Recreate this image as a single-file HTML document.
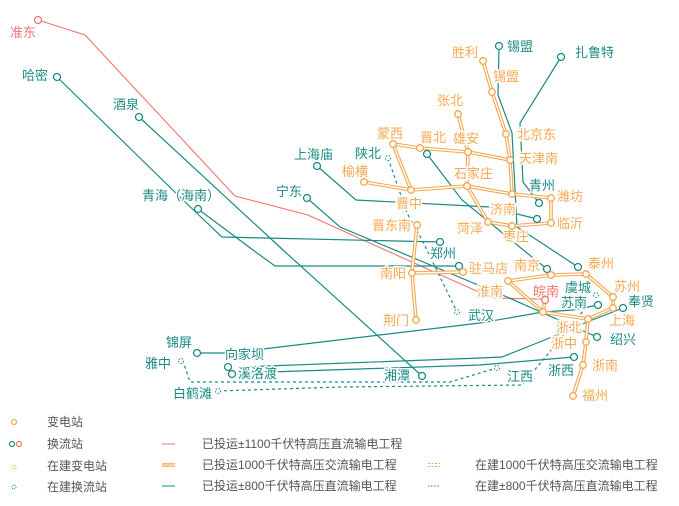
<!DOCTYPE html>
<html><head><meta charset="utf-8"><style>
html,body{margin:0;padding:0;background:#fff;}
svg{display:block;font-family:"Liberation Sans","Noto Sans CJK SC",sans-serif;}
.t,.o,.r{font-size:13px;paint-order:stroke;stroke:#fff;stroke-width:3px;stroke-linejoin:round}
.t{fill:#1a8a85}
.o{fill:#f5a850}
.r{fill:#f07470}
.L{fill:#555;font-size:12px}
.dc{fill:none;stroke:#1a8a85;stroke-width:1.2}
.ob{fill:none;stroke:#f5a54a;stroke-width:3.6;stroke-linejoin:round}
.ow{fill:none;stroke:#fff;stroke-width:1.4;stroke-linejoin:round}
.tc{fill:#fff;stroke:#1a8a85;stroke-width:1.3}
.oc{fill:#fff;stroke:#f5a54a;stroke-width:1.3}
</style></head><body>
<svg width="679" height="506" viewBox="0 0 679 506">
<polyline points="38,20 85,35 235,196 308,215 363,240 492,298 540,299 545,300" fill="none" stroke="#f07470" stroke-width="1.1"/>
<g class="dc">
<polyline points="57,77 183,200 222,237 440,242"/>
<polyline points="198,209 253,250 275,266 459,266"/>
<polyline points="139,117 283,250 422,376"/>
<polyline points="307,198 340,227 478,285 507,297 597,337"/>
<polyline points="317,166 356,200 490,207 537,219"/>
<polyline points="427,154 462,200 527,253 547,269"/>
<polyline points="499,46 498,95 512,133 517,227 537,240 578,267"/>
<polyline points="561,57 520,123 523,182 539,203"/>
<polyline points="197,353 225,353"/>
<polyline points="263,349 480,323 543,312 573,310 598,305"/>
<polyline points="240,367 480,358 502,357 557,335 587,322 623,308"/>
<polyline points="240,373 480,365 574,357"/>
<polyline points="388,158 407,213 422,240 457,312" stroke-dasharray="3,3"/>
<polyline points="181,361 185,367 190,382 450,382 480,373 497,368" stroke-dasharray="3,3"/>
<polyline points="218,391 340,387 522,385 543,360 588,305" stroke-dasharray="3,3"/>
</g>
<g>
<polyline class="ob" points="483,61 492,92 506,134 510,160 512,194"/>
<polyline class="ob" points="458,114 468,152"/>
<polyline class="ob" points="393,144 420,148 468,152 510,160"/>
<polyline class="ob" points="393,144 411,190"/>
<polyline class="ob" points="364,182 411,190 467,186 512,194 551,198 551,223 512,226 488,222 467,186"/>
<polyline class="ob" points="468,152 467,186"/>
<polyline class="ob" points="417,225 412,273 416,320"/>
<polyline class="ob" points="412,273 463,272"/>
<polyline class="ob" points="508,281 551,275 586,274 613,297 613,308 588,319 543,312 508,281"/>
<polyline class="ob" points="543,312 545,300"/>
<polyline class="ob" points="588,319 586,342 583,365 573,396"/>
<polyline class="ow" points="483,61 492,92 506,134 510,160 512,194"/>
<polyline class="ow" points="458,114 468,152"/>
<polyline class="ow" points="393,144 420,148 468,152 510,160"/>
<polyline class="ow" points="393,144 411,190"/>
<polyline class="ow" points="364,182 411,190 467,186 512,194 551,198 551,223 512,226 488,222 467,186"/>
<polyline class="ow" points="468,152 467,186"/>
<polyline class="ow" points="417,225 412,273 416,320"/>
<polyline class="ow" points="412,273 463,272"/>
<polyline class="ow" points="508,281 551,275 586,274 613,297 613,308 588,319 543,312 508,281"/>
<polyline class="ow" points="543,312 545,300"/>
<polyline class="ow" points="588,319 586,342 583,365 573,396"/>
</g>
<!-- labels (below circles) -->
<text class="r" x="10" y="37">准东</text>
<text class="t" x="22" y="80">哈密</text>
<text class="t" x="113" y="109">酒泉</text>
<text class="t" x="294" y="159">上海庙</text>
<text class="t" x="276" y="196">宁东</text>
<text class="t" x="142" y="200">青海（海南）</text>
<text class="t" x="507" y="51">锡盟</text>
<text class="t" x="575" y="57">扎鲁特</text>
<text class="o" x="452" y="57">胜利</text>
<text class="o" x="493" y="81">锡盟</text>
<text class="o" x="437" y="105">张北</text>
<text class="o" x="377" y="138">蒙西</text>
<text class="o" x="420" y="142">晋北</text>
<text class="o" x="453" y="143">雄安</text>
<text class="t" x="355" y="158">陕北</text>
<text class="o" x="517" y="139">北京东</text>
<text class="o" x="519" y="163">天津南</text>
<text class="o" x="342" y="176">榆横</text>
<text class="o" x="454" y="178">石家庄</text>
<text class="t" x="529" y="190">青州</text>
<text class="o" x="557" y="201">潍坊</text>
<text class="o" x="396" y="208">晋中</text>
<text class="o" x="490" y="214">济南</text>
<text class="o" x="372" y="230">晋东南</text>
<text class="o" x="457" y="233">菏泽</text>
<text class="o" x="557" y="228">临沂</text>
<text class="o" x="503" y="241">枣庄</text>
<text class="t" x="430" y="258">郑州</text>
<text class="o" x="469" y="273">驻马店</text>
<text class="o" x="514" y="270">南京</text>
<text class="o" x="588" y="268">泰州</text>
<text class="o" x="380" y="278">南阳</text>
<text class="o" x="477" y="296">淮南</text>
<text class="r" x="533" y="296">皖南</text>
<text class="t" x="565" y="292">虞城</text>
<text class="o" x="614" y="291">苏州</text>
<text class="t" x="561" y="307">苏南</text>
<text class="t" x="628" y="306">奉贤</text>
<text class="o" x="383" y="325">荆门</text>
<text class="t" x="468" y="320">武汉</text>
<text class="o" x="609" y="325">上海</text>
<text class="o" x="556" y="332">浙北</text>
<text class="t" x="610" y="344">绍兴</text>
<text class="o" x="551" y="348">浙中</text>
<text class="o" x="592" y="370">浙南</text>
<text class="t" x="384" y="380">湘潭</text>
<text class="t" x="548" y="375">浙西</text>
<text class="t" x="507" y="381">江西</text>
<text class="o" x="582" y="400">福州</text>
<text class="t" x="166" y="347">锦屏</text>
<text class="t" x="225" y="359">向家坝</text>
<text class="t" x="145" y="368">雅中</text>
<text class="t" x="238" y="378">溪洛渡</text>
<text class="t" x="173" y="398">白鹤滩</text>
<g class="tc">
<circle cx="57" cy="77" r="3.5"/><circle cx="139" cy="117" r="3.5"/><circle cx="198" cy="209" r="3.5"/>
<circle cx="307" cy="198" r="3.5"/><circle cx="317" cy="166" r="3.5"/><circle cx="427" cy="154" r="3.5"/>
<circle cx="499" cy="46" r="3.5"/><circle cx="561" cy="57" r="3.5"/><circle cx="539" cy="203" r="3.5"/>
<circle cx="537" cy="219" r="3.5"/><circle cx="440" cy="242" r="3.5"/><circle cx="459" cy="266" r="3.5"/>
<circle cx="547" cy="269" r="3.5"/><circle cx="578" cy="267" r="3.5"/><circle cx="598" cy="305" r="3.5"/>
<circle cx="623" cy="308" r="3.5"/><circle cx="597" cy="337" r="3.5"/><circle cx="574" cy="357" r="3.5"/>
<circle cx="422" cy="376" r="3.5"/><circle cx="197" cy="353" r="3.5"/><circle cx="228" cy="367" r="3.5"/><circle cx="232" cy="374" r="3.5"/>
</g>
<g fill="#fff" stroke="#1a8a85" stroke-width="1" stroke-dasharray="1.5,1.5">
<circle cx="388" cy="158" r="2.5"/><circle cx="457" cy="312" r="2.5"/><circle cx="181" cy="361" r="2.5"/>
<circle cx="497" cy="368" r="2.5"/><circle cx="218" cy="391" r="2.5"/><circle cx="596" cy="295" r="2.5"/>
</g>
<circle cx="38" cy="20" r="3.5" fill="#fff" stroke="#f07470" stroke-width="1.3"/>
<circle cx="545" cy="300" r="3.5" fill="#fff" stroke="#f07470" stroke-width="1.3"/>
<g class="oc">
<circle cx="483" cy="61" r="3.3"/><circle cx="492" cy="92" r="3.3"/><circle cx="506" cy="134" r="3.3"/>
<circle cx="510" cy="160" r="3.3"/><circle cx="512" cy="194" r="3.3"/><circle cx="551" cy="198" r="3.3"/>
<circle cx="551" cy="223" r="3.3"/><circle cx="512" cy="226" r="3.3"/><circle cx="488" cy="222" r="3.3"/>
<circle cx="467" cy="186" r="3.3"/><circle cx="468" cy="152" r="3.3"/><circle cx="458" cy="114" r="3.3"/>
<circle cx="393" cy="144" r="3.3"/><circle cx="420" cy="148" r="3.3"/><circle cx="364" cy="182" r="3.3"/>
<circle cx="411" cy="190" r="3.3"/><circle cx="417" cy="225" r="3.3"/><circle cx="412" cy="273" r="3.3"/>
<circle cx="416" cy="320" r="3.3"/><circle cx="463" cy="272" r="3.3"/><circle cx="508" cy="281" r="3.3"/>
<circle cx="551" cy="275" r="3.3"/><circle cx="586" cy="274" r="3.3"/><circle cx="613" cy="297" r="3.3"/>
<circle cx="613" cy="308" r="3.3"/><circle cx="588" cy="319" r="3.3"/><circle cx="543" cy="312" r="3.3"/>
<circle cx="586" cy="342" r="3.3"/><circle cx="583" cy="365" r="3.3"/><circle cx="573" cy="396" r="3.3"/>
</g>
<!-- legend -->
<circle cx="14" cy="422" r="2.5" fill="#fff" stroke="#f5a54a" stroke-width="1.2"/>
<text class="L" x="47" y="426">变电站</text>
<circle cx="12" cy="444" r="2.5" fill="#fff" stroke="#1a8a85" stroke-width="1.2"/>
<circle cx="19" cy="444" r="2.5" fill="#fff" stroke="#f07470" stroke-width="1.2"/>
<text class="L" x="47" y="448">换流站</text>
<circle cx="14" cy="467" r="2" fill="#fff" stroke="#f5a54a" stroke-width="1" stroke-dasharray="1,1"/>
<text class="L" x="47" y="470">在建变电站</text>
<circle cx="14" cy="487" r="2" fill="#fff" stroke="#1a8a85" stroke-width="1" stroke-dasharray="1,1"/>
<text class="L" x="47" y="491">在建换流站</text>
<line x1="162" y1="444" x2="175" y2="444" stroke="#f07470" stroke-width="1"/>
<text class="L" x="202" y="448">已投运±1100千伏特高压直流输电工程</text>
<line x1="162" y1="465" x2="175" y2="465" stroke="#f5a54a" stroke-width="3.5"/>
<line x1="162" y1="465" x2="175" y2="465" stroke="#fff" stroke-width="1"/>
<text class="L" x="202" y="469">已投运1000千伏特高压交流输电工程</text>
<line x1="162" y1="486" x2="175" y2="486" stroke="#7fc9c4" stroke-width="2"/>
<text class="L" x="202" y="490">已投运±800千伏特高压直流输电工程</text>
<line x1="428" y1="463.5" x2="440" y2="463.5" stroke="#f5a54a" stroke-width="1" stroke-dasharray="2,1.5"/>
<line x1="428" y1="466.5" x2="440" y2="466.5" stroke="#f5a54a" stroke-width="1" stroke-dasharray="2,1.5"/>
<text class="L" x="475" y="469">在建1000千伏特高压交流输电工程</text>
<line x1="428" y1="486" x2="440" y2="486" stroke="#1a8a85" stroke-width="1" stroke-dasharray="1.5,1.5"/>
<text class="L" x="475" y="490">在建±800千伏特高压直流输电工程</text>
</svg>
</body></html>
